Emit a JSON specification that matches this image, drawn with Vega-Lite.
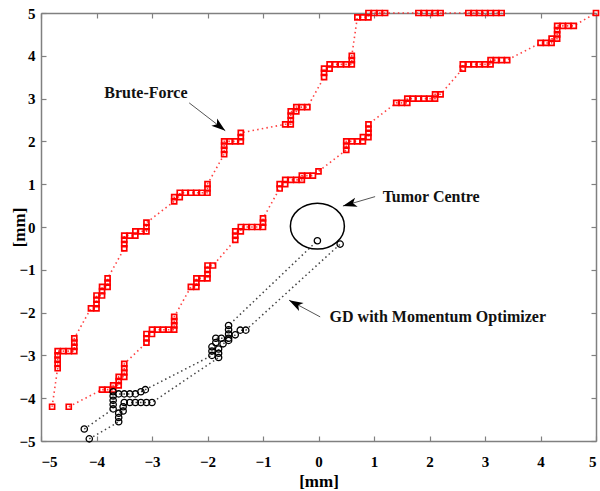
{
  "$schema": "https://vega.github.io/schema/vega-lite/v6.json",
  "width": 555,
  "height": 428,
  "autosize": {"type": "none"},
  "padding": {"left": 41, "top": 13, "right": 4, "bottom": 50},
  "background": "white",
  "config": {
    "view": {"stroke": null},
    "font": "Liberation Serif",
    "axis": {
      "grid": false,
      "domainColor": "#808080",
      "domainWidth": 1.5,
      "tickColor": "#808080",
      "tickWidth": 1.2,
      "labelFont": "Liberation Serif",
      "labelFontWeight": "bold",
      "labelFontSize": 15,
      "labelColor": "#000000",
      "titleFont": "Liberation Serif",
      "titleFontWeight": "bold",
      "titleFontSize": 17,
      "titleColor": "#000000"
    }
  },
  "datasets": {
    "bf": [
      {"p":"A","i":1,"x":-4.8,"y":-4.2},{"p":"A","i":2,"x":-4.7,"y":-3.3},{"p":"A","i":3,"x":-4.7,"y":-3.2},{"p":"A","i":4,"x":-4.7,"y":-3.1},{"p":"A","i":5,"x":-4.7,"y":-3.0},{"p":"A","i":6,"x":-4.7,"y":-2.9},{"p":"A","i":7,"x":-4.6,"y":-2.9},{"p":"A","i":8,"x":-4.5,"y":-2.9},{"p":"A","i":9,"x":-4.4,"y":-2.9},{"p":"A","i":10,"x":-4.4,"y":-2.8},{"p":"A","i":11,"x":-4.4,"y":-2.7},{"p":"A","i":12,"x":-4.4,"y":-2.6},
      {"p":"A","i":13,"x":-4.1,"y":-1.9},{"p":"A","i":14,"x":-4.0,"y":-1.9},{"p":"A","i":15,"x":-4.0,"y":-1.8},{"p":"A","i":16,"x":-4.0,"y":-1.7},{"p":"A","i":17,"x":-4.0,"y":-1.6},{"p":"A","i":18,"x":-3.9,"y":-1.6},{"p":"A","i":19,"x":-3.9,"y":-1.5},{"p":"A","i":20,"x":-3.9,"y":-1.4},{"p":"A","i":21,"x":-3.8,"y":-1.4},{"p":"A","i":22,"x":-3.8,"y":-1.3},{"p":"A","i":23,"x":-3.8,"y":-1.2},
      {"p":"A","i":24,"x":-3.5,"y":-0.5},{"p":"A","i":25,"x":-3.5,"y":-0.4},{"p":"A","i":26,"x":-3.5,"y":-0.3},{"p":"A","i":27,"x":-3.5,"y":-0.2},{"p":"A","i":28,"x":-3.4,"y":-0.2},{"p":"A","i":29,"x":-3.3,"y":-0.2},{"p":"A","i":30,"x":-3.3,"y":-0.1},{"p":"A","i":31,"x":-3.2,"y":-0.1},{"p":"A","i":32,"x":-3.1,"y":-0.1},{"p":"A","i":33,"x":-3.1,"y":0.0},{"p":"A","i":34,"x":-3.1,"y":0.1},
      {"p":"A","i":35,"x":-2.6,"y":0.6},{"p":"A","i":36,"x":-2.6,"y":0.7},{"p":"A","i":37,"x":-2.5,"y":0.7},{"p":"A","i":38,"x":-2.5,"y":0.8},{"p":"A","i":39,"x":-2.4,"y":0.8},{"p":"A","i":40,"x":-2.3,"y":0.8},{"p":"A","i":41,"x":-2.2,"y":0.8},{"p":"A","i":42,"x":-2.1,"y":0.8},{"p":"A","i":43,"x":-2.0,"y":0.8},{"p":"A","i":44,"x":-2.0,"y":0.9},{"p":"A","i":45,"x":-2.0,"y":1.0},
      {"p":"A","i":46,"x":-1.7,"y":1.7},{"p":"A","i":47,"x":-1.7,"y":1.8},{"p":"A","i":48,"x":-1.7,"y":1.9},{"p":"A","i":49,"x":-1.7,"y":2.0},{"p":"A","i":50,"x":-1.6,"y":2.0},{"p":"A","i":51,"x":-1.5,"y":2.0},{"p":"A","i":52,"x":-1.4,"y":2.0},{"p":"A","i":53,"x":-1.4,"y":2.1},{"p":"A","i":54,"x":-1.4,"y":2.2},
      {"p":"A","i":55,"x":-0.6,"y":2.4},{"p":"A","i":56,"x":-0.5,"y":2.4},{"p":"A","i":57,"x":-0.5,"y":2.5},{"p":"A","i":58,"x":-0.5,"y":2.6},{"p":"A","i":59,"x":-0.5,"y":2.7},{"p":"A","i":60,"x":-0.4,"y":2.7},{"p":"A","i":61,"x":-0.4,"y":2.8},{"p":"A","i":62,"x":-0.3,"y":2.8},{"p":"A","i":63,"x":-0.2,"y":2.8},
      {"p":"A","i":64,"x":0.1,"y":3.5},{"p":"A","i":65,"x":0.1,"y":3.6},{"p":"A","i":66,"x":0.1,"y":3.7},{"p":"A","i":67,"x":0.2,"y":3.7},{"p":"A","i":68,"x":0.2,"y":3.8},{"p":"A","i":69,"x":0.3,"y":3.8},{"p":"A","i":70,"x":0.4,"y":3.8},{"p":"A","i":71,"x":0.5,"y":3.8},{"p":"A","i":72,"x":0.6,"y":3.8},{"p":"A","i":73,"x":0.6,"y":3.9},{"p":"A","i":74,"x":0.6,"y":4.0},
      {"p":"A","i":75,"x":0.7,"y":4.9},{"p":"A","i":76,"x":0.8,"y":4.9},{"p":"A","i":77,"x":0.9,"y":4.9},{"p":"A","i":78,"x":0.9,"y":5.0},{"p":"A","i":79,"x":1.0,"y":5.0},{"p":"A","i":80,"x":1.1,"y":5.0},{"p":"A","i":81,"x":1.2,"y":5.0},
      {"p":"A","i":82,"x":1.8,"y":5.0},{"p":"A","i":83,"x":1.9,"y":5.0},{"p":"A","i":84,"x":2.0,"y":5.0},{"p":"A","i":85,"x":2.1,"y":5.0},{"p":"A","i":86,"x":2.2,"y":5.0},
      {"p":"A","i":87,"x":2.7,"y":5.0},{"p":"A","i":88,"x":2.8,"y":5.0},{"p":"A","i":89,"x":2.9,"y":5.0},{"p":"A","i":90,"x":3.0,"y":5.0},{"p":"A","i":91,"x":3.1,"y":5.0},{"p":"A","i":92,"x":3.2,"y":5.0},{"p":"A","i":93,"x":3.3,"y":5.0},
      {"p":"B","i":1,"x":-4.5,"y":-4.2},
      {"p":"B","i":2,"x":-3.9,"y":-3.8},{"p":"B","i":3,"x":-3.8,"y":-3.8},{"p":"B","i":4,"x":-3.7,"y":-3.8},{"p":"B","i":5,"x":-3.7,"y":-3.7},{"p":"B","i":6,"x":-3.6,"y":-3.7},{"p":"B","i":7,"x":-3.6,"y":-3.6},{"p":"B","i":8,"x":-3.6,"y":-3.5},{"p":"B","i":9,"x":-3.5,"y":-3.5},{"p":"B","i":10,"x":-3.5,"y":-3.4},{"p":"B","i":11,"x":-3.5,"y":-3.3},{"p":"B","i":12,"x":-3.5,"y":-3.2},
      {"p":"B","i":13,"x":-3.1,"y":-2.7},{"p":"B","i":14,"x":-3.1,"y":-2.6},{"p":"B","i":15,"x":-3.1,"y":-2.5},{"p":"B","i":16,"x":-3.0,"y":-2.5},{"p":"B","i":17,"x":-3.0,"y":-2.4},{"p":"B","i":18,"x":-2.9,"y":-2.4},{"p":"B","i":19,"x":-2.8,"y":-2.4},{"p":"B","i":20,"x":-2.7,"y":-2.4},{"p":"B","i":21,"x":-2.6,"y":-2.4},{"p":"B","i":22,"x":-2.6,"y":-2.3},{"p":"B","i":23,"x":-2.6,"y":-2.2},{"p":"B","i":24,"x":-2.6,"y":-2.1},
      {"p":"B","i":25,"x":-2.3,"y":-1.4},{"p":"B","i":26,"x":-2.2,"y":-1.4},{"p":"B","i":27,"x":-2.2,"y":-1.3},{"p":"B","i":28,"x":-2.2,"y":-1.2},{"p":"B","i":29,"x":-2.1,"y":-1.2},{"p":"B","i":30,"x":-2.0,"y":-1.2},{"p":"B","i":31,"x":-2.0,"y":-1.1},{"p":"B","i":32,"x":-2.0,"y":-1.0},{"p":"B","i":33,"x":-2.0,"y":-0.9},{"p":"B","i":34,"x":-1.9,"y":-0.9},
      {"p":"B","i":35,"x":-1.5,"y":-0.3},{"p":"B","i":36,"x":-1.5,"y":-0.2},{"p":"B","i":37,"x":-1.5,"y":-0.1},{"p":"B","i":38,"x":-1.4,"y":-0.1},{"p":"B","i":39,"x":-1.4,"y":0.0},{"p":"B","i":40,"x":-1.3,"y":0.0},{"p":"B","i":41,"x":-1.2,"y":0.0},{"p":"B","i":42,"x":-1.1,"y":0.0},{"p":"B","i":43,"x":-1.0,"y":0.0},{"p":"B","i":44,"x":-1.0,"y":0.1},{"p":"B","i":45,"x":-1.0,"y":0.2},
      {"p":"B","i":46,"x":-0.7,"y":0.9},{"p":"B","i":47,"x":-0.7,"y":1.0},{"p":"B","i":48,"x":-0.6,"y":1.0},{"p":"B","i":49,"x":-0.6,"y":1.1},{"p":"B","i":50,"x":-0.5,"y":1.1},{"p":"B","i":51,"x":-0.4,"y":1.1},{"p":"B","i":52,"x":-0.3,"y":1.1},{"p":"B","i":53,"x":-0.3,"y":1.2},{"p":"B","i":54,"x":-0.2,"y":1.2},{"p":"B","i":55,"x":-0.1,"y":1.2},{"p":"B","i":56,"x":0.0,"y":1.3},
      {"p":"B","i":57,"x":0.5,"y":1.8},{"p":"B","i":58,"x":0.5,"y":1.9},{"p":"B","i":59,"x":0.5,"y":2.0},{"p":"B","i":60,"x":0.6,"y":2.0},{"p":"B","i":61,"x":0.7,"y":2.0},{"p":"B","i":62,"x":0.8,"y":2.0},{"p":"B","i":63,"x":0.8,"y":2.1},{"p":"B","i":64,"x":0.9,"y":2.1},{"p":"B","i":65,"x":0.9,"y":2.2},{"p":"B","i":66,"x":0.9,"y":2.3},{"p":"B","i":67,"x":0.9,"y":2.4},
      {"p":"B","i":68,"x":1.4,"y":2.9},{"p":"B","i":69,"x":1.5,"y":2.9},{"p":"B","i":70,"x":1.6,"y":2.9},{"p":"B","i":71,"x":1.6,"y":3.0},{"p":"B","i":72,"x":1.7,"y":3.0},{"p":"B","i":73,"x":1.8,"y":3.0},{"p":"B","i":74,"x":1.9,"y":3.0},{"p":"B","i":75,"x":2.0,"y":3.0},{"p":"B","i":76,"x":2.1,"y":3.0},{"p":"B","i":77,"x":2.1,"y":3.1},{"p":"B","i":78,"x":2.2,"y":3.1},
      {"p":"B","i":79,"x":2.6,"y":3.7},{"p":"B","i":80,"x":2.6,"y":3.8},{"p":"B","i":81,"x":2.7,"y":3.8},{"p":"B","i":82,"x":2.8,"y":3.8},{"p":"B","i":83,"x":2.9,"y":3.8},{"p":"B","i":84,"x":3.0,"y":3.8},{"p":"B","i":85,"x":3.1,"y":3.8},{"p":"B","i":86,"x":3.1,"y":3.9},{"p":"B","i":87,"x":3.2,"y":3.9},{"p":"B","i":88,"x":3.3,"y":3.9},{"p":"B","i":89,"x":3.4,"y":3.9},
      {"p":"B","i":90,"x":4.0,"y":4.3},{"p":"B","i":91,"x":4.1,"y":4.3},{"p":"B","i":92,"x":4.2,"y":4.3},{"p":"B","i":93,"x":4.2,"y":4.4},{"p":"B","i":94,"x":4.3,"y":4.4},{"p":"B","i":95,"x":4.3,"y":4.5},{"p":"B","i":96,"x":4.3,"y":4.6},{"p":"B","i":97,"x":4.3,"y":4.7},{"p":"B","i":98,"x":4.4,"y":4.7},{"p":"B","i":99,"x":4.5,"y":4.7},{"p":"B","i":100,"x":4.6,"y":4.7},
      {"p":"B","i":101,"x":5.0,"y":5.0}
    ],
    "gd": [
      {"p":"C","i":1,"x":-4.22,"y":-4.72},{"p":"C","i":2,"x":-3.7,"y":-4.25},{"p":"C","i":3,"x":-3.7,"y":-4.15},{"p":"C","i":4,"x":-3.7,"y":-4.05},{"p":"C","i":5,"x":-3.7,"y":-3.95},{"p":"C","i":6,"x":-3.7,"y":-3.85},{"p":"C","i":7,"x":-3.6,"y":-3.9},{"p":"C","i":8,"x":-3.5,"y":-3.9},{"p":"C","i":9,"x":-3.4,"y":-3.9},{"p":"C","i":10,"x":-3.3,"y":-3.9},{"p":"C","i":11,"x":-3.2,"y":-3.85},{"p":"C","i":12,"x":-3.12,"y":-3.8},
      {"p":"C","i":13,"x":-1.92,"y":-3.0},{"p":"C","i":14,"x":-1.92,"y":-2.9},{"p":"C","i":15,"x":-1.92,"y":-2.8},{"p":"C","i":16,"x":-1.85,"y":-2.7},{"p":"C","i":17,"x":-1.85,"y":-2.6},{"p":"C","i":18,"x":-1.75,"y":-2.6},{"p":"C","i":19,"x":-1.62,"y":-2.6},{"p":"C","i":20,"x":-1.62,"y":-2.5},{"p":"C","i":21,"x":-1.62,"y":-2.4},{"p":"C","i":22,"x":-1.62,"y":-2.3},
      {"p":"C","i":23,"x":-0.02,"y":-0.32},
      {"p":"D","i":1,"x":-4.13,"y":-4.95},{"p":"D","i":2,"x":-3.6,"y":-4.55},{"p":"D","i":3,"x":-3.6,"y":-4.45},{"p":"D","i":4,"x":-3.6,"y":-4.35},{"p":"D","i":5,"x":-3.52,"y":-4.3},{"p":"D","i":6,"x":-3.52,"y":-4.2},{"p":"D","i":7,"x":-3.5,"y":-4.1},{"p":"D","i":8,"x":-3.4,"y":-4.1},{"p":"D","i":9,"x":-3.3,"y":-4.1},{"p":"D","i":10,"x":-3.2,"y":-4.1},{"p":"D","i":11,"x":-3.1,"y":-4.1},{"p":"D","i":12,"x":-3.0,"y":-4.1},
      {"p":"D","i":13,"x":-1.8,"y":-3.05},{"p":"D","i":14,"x":-1.8,"y":-2.95},{"p":"D","i":15,"x":-1.8,"y":-2.85},{"p":"D","i":16,"x":-1.72,"y":-2.73},{"p":"D","i":17,"x":-1.62,"y":-2.65},{"p":"D","i":18,"x":-1.5,"y":-2.52},{"p":"D","i":19,"x":-1.41,"y":-2.41},{"p":"D","i":20,"x":-1.31,"y":-2.41},
      {"p":"D","i":21,"x":0.39,"y":-0.4}
    ],
    "tumor": [{"x": -0.02, "y": 0.02}],
    "ann": [
      {"label": "Brute-Force", "x": -3.11, "y": 3.14},
      {"label": "Tumor Centre", "x": 2.03, "y": 0.71},
      {"label": "GD with Momentum Optimizer", "x": 2.15, "y": -2.1}
    ],
    "arrows": [
      {"name": "bf", "x": -2.33, "y": 2.9, "x2": -1.68, "y2": 2.25},
      {"name": "tc", "x": 1.02, "y": 0.71, "x2": 0.44, "y2": 0.49},
      {"name": "gd", "x": 0.03, "y": -2.1, "x2": -0.53, "y2": -1.71}
    ]
  },
  "layer": [
    {
      "data": {"name": "bf"},
      "mark": {"type": "line", "color": "#ff2020", "strokeWidth": 1.6, "strokeDash": [1.5, 3.2], "opacity": 0.85},
      "encoding": {
        "x": {"field": "x", "type": "quantitative", "scale": {"domain": [-5, 5], "nice": false, "zero": false},
          "axis": {"orient": "bottom", "values": [-5,-4,-3,-2,-1,0,1,2,3,4,5], "tickSize": -5, "labelPadding": 18, "title": "[mm]", "titleBaseline": "middle", "titleY": 40}},
        "y": {"field": "y", "type": "quantitative", "scale": {"domain": [-5, 5], "nice": false, "zero": false},
          "axis": {"orient": "left", "values": [-5,-4,-3,-2,-1,0,1,2,3,4,5], "tickSize": -5, "labelPadding": 11, "title": "[mm]", "titleAngle": -90, "titleBaseline": "middle", "titleAlign": "center", "titleX": -22, "titleY": 214}},
        "detail": {"field": "p"},
        "order": {"field": "i", "type": "quantitative"}
      }
    },
    {
      "data": {"name": "bf"},
      "mark": {"type": "point", "shape": "square", "filled": false, "stroke": "#ff0000", "strokeWidth": 1.7, "size": 25, "opacity": 1},
      "encoding": {
        "x": {"field": "x", "type": "quantitative", "axis": {"orient": "top", "values": [-5,-4,-3,-2,-1,0,1,2,3,4,5], "tickSize": -5, "labels": false, "title": null}},
        "y": {"field": "y", "type": "quantitative", "axis": {"orient": "right", "values": [-5,-4,-3,-2,-1,0,1,2,3,4,5], "tickSize": -5, "labels": false, "title": null}}
      }
    },
    {
      "data": {"name": "gd"},
      "mark": {"type": "line", "color": "#444444", "strokeWidth": 1.5, "strokeDash": [1.5, 3]},
      "encoding": {
        "x": {"field": "x", "type": "quantitative", "axis": null},
        "y": {"field": "y", "type": "quantitative", "axis": null},
        "detail": {"field": "p"},
        "order": {"field": "i", "type": "quantitative"}
      }
    },
    {
      "data": {"name": "gd"},
      "mark": {"type": "point", "shape": "circle", "filled": false, "stroke": "#000000", "strokeWidth": 1.3, "size": 40, "opacity": 1},
      "encoding": {
        "x": {"field": "x", "type": "quantitative", "axis": null},
        "y": {"field": "y", "type": "quantitative", "axis": null}
      }
    },
    {
      "data": {"name": "tumor"},
      "mark": {"type": "point", "shape": "M-1,0A1,0.85,0,1,1,1,0A1,0.85,0,1,1,-1,0Z", "filled": false, "stroke": "#000000", "strokeWidth": 1.5, "size": 2916, "opacity": 1},
      "encoding": {
        "x": {"field": "x", "type": "quantitative", "axis": null},
        "y": {"field": "y", "type": "quantitative", "axis": null}
      }
    },
    {
      "data": {"name": "arrows"},
      "mark": {"type": "rule", "color": "#555555", "strokeWidth": 1},
      "encoding": {
        "x": {"field": "x", "type": "quantitative", "axis": null},
        "y": {"field": "y", "type": "quantitative", "axis": null},
        "x2": {"field": "x2"},
        "y2": {"field": "y2"}
      }
    },
    {
      "data": {"name": "arrows"},
      "transform": [{"filter": "datum.name === 'bf'"}],
      "mark": {"type": "point", "shape": "M0,0L-2.4,-0.8L-1.8,0L-2.4,0.8Z", "filled": true, "fill": "#000000", "stroke": null, "size": 136, "angle": 38, "opacity": 1},
      "encoding": {
        "x": {"field": "x2", "type": "quantitative", "axis": null},
        "y": {"field": "y2", "type": "quantitative", "axis": null}
      }
    },
    {
      "data": {"name": "arrows"},
      "transform": [{"filter": "datum.name === 'tc'"}],
      "mark": {"type": "point", "shape": "M0,0L-2.4,-0.8L-1.8,0L-2.4,0.8Z", "filled": true, "fill": "#000000", "stroke": null, "size": 136, "angle": 164, "opacity": 1},
      "encoding": {
        "x": {"field": "x2", "type": "quantitative", "axis": null},
        "y": {"field": "y2", "type": "quantitative", "axis": null}
      }
    },
    {
      "data": {"name": "arrows"},
      "transform": [{"filter": "datum.name === 'gd'"}],
      "mark": {"type": "point", "shape": "M0,0L-2.4,-0.8L-1.8,0L-2.4,0.8Z", "filled": true, "fill": "#000000", "stroke": null, "size": 136, "angle": 209, "opacity": 1},
      "encoding": {
        "x": {"field": "x2", "type": "quantitative", "axis": null},
        "y": {"field": "y2", "type": "quantitative", "axis": null}
      }
    },
    {
      "data": {"name": "ann"},
      "mark": {"type": "text", "font": "Liberation Serif", "fontWeight": "bold", "fontSize": 16, "color": "#111111", "align": "center", "baseline": "middle"},
      "encoding": {
        "x": {"field": "x", "type": "quantitative", "axis": null},
        "y": {"field": "y", "type": "quantitative", "axis": null},
        "text": {"field": "label"}
      }
    }
  ]
}
